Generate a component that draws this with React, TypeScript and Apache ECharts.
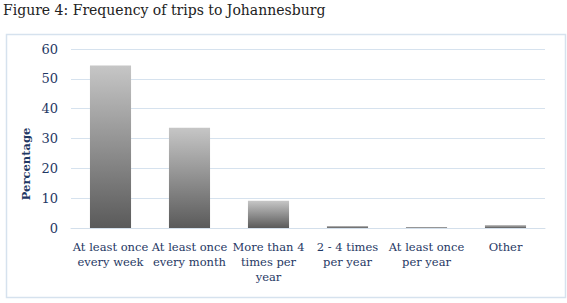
import React, { useEffect, useRef } from "react";
import * as echarts from "echarts";

const categories = [
  "At least once\nevery week",
  "At least once\nevery month",
  "More than 4\ntimes per\nyear",
  "2 - 4 times\nper year",
  "At least once\nper year",
  "Other",
];
const values = [54.5, 33.6, 9.1, 0.7, 0.3, 1.0];
const yTicks = { min: 0, max: 60, interval: 10 };

export default function App() {
  const ref = useRef<HTMLDivElement>(null);
  useEffect(() => {
    if (!ref.current) return;
    const chart = echarts.init(ref.current, null, { renderer: "svg" });
    const font = "'DejaVu Serif', serif";
    chart.setOption({
      animation: false,
      backgroundColor: "#ffffff",
      graphic: [
        {
          type: "text",
          left: 3,
          top: 3,
          style: {
            text: "Figure 4: Frequency of trips to Johannesburg",
            font: `14px ${font}`,
            fill: "#222222",
          },
        },
        {
          type: "rect",
          left: 4,
          top: 32,
          shape: { width: 559, height: 263 },
          style: { fill: "none", stroke: "#d6e2ee", lineWidth: 1.5 },
        },
        {
          type: "text",
          x: 26,
          y: 164,
          rotation: Math.PI / 2,
          style: {
            text: "Percentage",
            font: `bold 11.5px ${font}`,
            fill: "#1f3864",
            align: "center",
            verticalAlign: "middle",
          },
        },
      ],
      grid: { left: 71, right: 22, top: 49, bottom: 75, containLabel: false },
      xAxis: {
        type: "category",
        data: categories,
        axisLine: { lineStyle: { color: "#d3dfeb", width: 1 } },
        axisTick: { show: false },
        axisLabel: {
          interval: 0,
          color: "#1f3864",
          fontFamily: font,
          fontSize: 11.5,
          lineHeight: 15,
          margin: 11,
        },
      },
      yAxis: {
        type: "value",
        min: yTicks.min,
        max: yTicks.max,
        interval: yTicks.interval,
        axisLine: { show: false },
        axisTick: { show: false },
        splitLine: { lineStyle: { color: "#d6e2ee", width: 1 } },
        axisLabel: {
          color: "#1f3864",
          fontFamily: font,
          fontSize: 13,
          margin: 13,
        },
      },
      series: [
        {
          type: "bar",
          data: values,
          barWidth: "52%",
          itemStyle: {
            color: new echarts.graphic.LinearGradient(0, 0, 0, 1, [
              { offset: 0, color: "#c6c6c6" },
              { offset: 1, color: "#5a5a5a" },
            ]),
          },
        },
      ],
    });
    return () => chart.dispose();
  }, []);
  return (
    <div
      ref={ref}
      style={{ position: "absolute", left: 0, top: 0, width: 567, height: 303 }}
    />
  );
}
